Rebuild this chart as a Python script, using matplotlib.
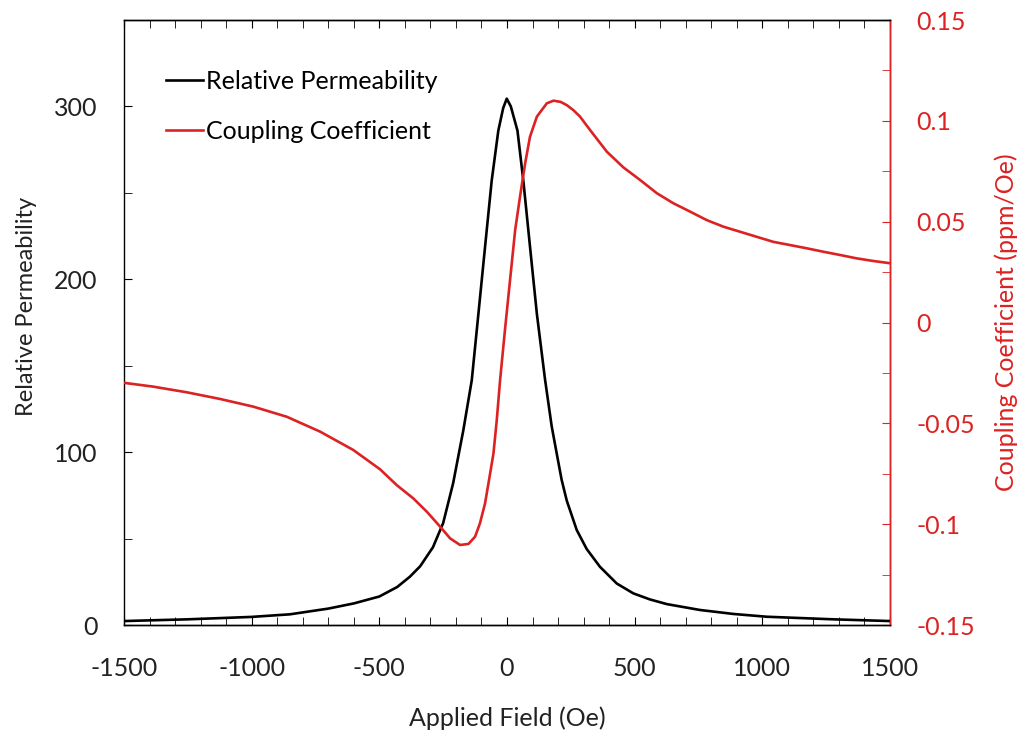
import matplotlib.pyplot as plt
from matplotlib.ticker import MultipleLocator

plt.rcParams['font.family'] = ['Lato', 'DejaVu Sans']

# relative permeability
field_mu = [-1500, -1250, -1000, -850, -700, -600, -500, -430, -380, -340, -290,
            -250, -211, -171, -138, -112, -86, -60, -34, -15, -1, 15, 41, 64,
            90, 117, 149, 175, 195, 214, 234, 273, 312, 364, 430, 495, 560,
            626, 756, 887, 1017, 1278, 1500]
mu = [2.3, 3.3, 4.7, 6.2, 9.5, 12.5, 16.5, 22, 28, 34, 45,
      59, 82, 112.7, 141.6, 180, 218.7, 257, 286, 299, 304.5, 300, 286, 257,
      219, 180, 142, 115, 99, 84, 72, 55, 44, 33.7, 24, 18.3, 14.8,
      12.1, 8.7, 6.4, 4.8, 3.3, 2.3]

# coupling coefficient
field_cc = [-1500, -1385, -1254, -1124, -994, -863, -732, -602, -497, -432,
            -367, -314, -262, -223, -184, -151, -125, -106, -86, -66, -53,
            -40, -27, -8, 12, 32, 51, 71, 90, 117, 156, 182, 210, 234, 260,
            286, 325, 391, 456, 521, 587, 652, 717, 782, 848, 913, 978, 1043,
            1109, 1174, 1239, 1304, 1370, 1435, 1500]
cc = [-0.0299, -0.0318, -0.0346, -0.0379, -0.0417, -0.0467, -0.0541, -0.0632,
      -0.0728, -0.0806, -0.0872, -0.0938, -0.1012, -0.1070, -0.1103, -0.1098,
      -0.1062, -0.0996, -0.0897, -0.0748, -0.0649, -0.0483, -0.0285, -0.0037,
      0.0211, 0.0459, 0.0624, 0.0789, 0.0921, 0.1021, 0.1087, 0.1100, 0.1094,
      0.1078, 0.1053, 0.1021, 0.0955, 0.0847, 0.0769, 0.0707, 0.0641, 0.0591,
      0.0550, 0.0508, 0.0475, 0.0450, 0.0425, 0.0400, 0.0384, 0.0368, 0.0351,
      0.0335, 0.0318, 0.0305, 0.0294]

red = '#dc2222'
txt = '#222222'

fig = plt.figure(figsize=(10.23, 7.33), dpi=100)
ax = fig.add_axes([0.1212, 0.1473, 0.7488, 0.8254])
ax2 = ax.twinx()

l1, = ax.plot(field_mu, mu, color='black', lw=1.9, label='Relative Permeability')
l2, = ax2.plot(field_cc, cc, color=red, lw=1.9, label='Coupling Coefficient')

ax.set_xlim(-1500, 1500)
ax.set_ylim(0, 350)
ax2.set_ylim(-0.15, 0.15)

ax.xaxis.set_minor_locator(MultipleLocator(100))
ax.yaxis.set_minor_locator(MultipleLocator(50))
ax2.yaxis.set_minor_locator(MultipleLocator(0.025))
ax2.set_yticks([-0.15, -0.1, -0.05, 0, 0.05, 0.1, 0.15])
ax2.set_yticklabels(['-0.15', '-0.1', '-0.05', '0', '0.05', '0.1', '0.15'])
ax.set_xticks([-1500, -1000, -500, 0, 500, 1000, 1500])
ax.set_xticklabels(['-1500', '-1000', '-500', '0', '500', '1000', '1500'])
ax.set_yticks([0, 100, 200, 300])

ax.tick_params(axis='x', which='both', direction='in', top=True, length=6,
               labelsize=18, pad=23, labelcolor=txt)
ax.tick_params(axis='y', which='both', direction='in', length=6,
               labelsize=18, pad=19, labelcolor=txt)
ax2.tick_params(axis='y', which='both', direction='in', length=6, color=red,
                labelcolor=red, labelsize=18, pad=19)

ax2.spines['right'].set_color(red)
ax2.spines['left'].set_visible(False)
for s in ax2.spines.values():
    s.set_linewidth(1.0)
for s in ax.spines.values():
    s.set_linewidth(1.0)

ax.set_xlabel('Applied Field (Oe)', fontsize=18, labelpad=19, color=txt)
ax.set_ylabel('Relative Permeability', fontsize=17, color=txt)
ax.yaxis.set_label_coords(-0.114, 0.526)
ax2.set_ylabel('Coupling Coefficient (ppm/Oe)', fontsize=18, labelpad=14, color=red)

ax.legend(handles=[l1, l2], loc='upper left', bbox_to_anchor=(0.025, 0.955),
          frameon=False, fontsize=18, handlelength=1.5, handletextpad=0.12,
          labelspacing=1.1)

fig.savefig('out.png', dpi=100)
